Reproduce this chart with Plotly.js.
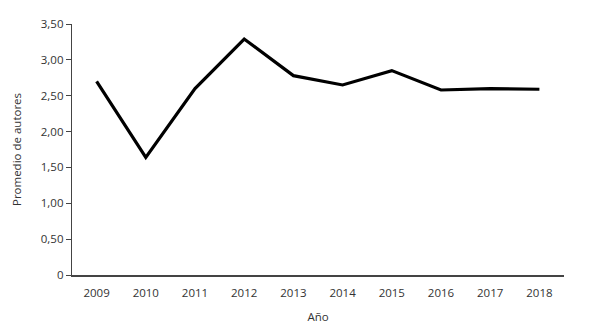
<!DOCTYPE html>
<html><head><meta charset="utf-8">
<script src="https://cdn.plot.ly/plotly-3.0.1.min.js"></script>
<style>html,body{margin:0;padding:0;background:#fff}#c{width:610px;height:327px}</style>
</head><body><div id="c"></div>
<script>
const years = ['2009','2010','2011','2012','2013','2014','2015','2016','2017','2018'];
const promedio = [2.70, 1.64, 2.60, 3.29, 2.78, 2.65, 2.85, 2.58, 2.60, 2.59];
const yTickVals = [0, 0.5, 1, 1.5, 2, 2.5, 3, 3.5];
const yTickText = ['0', '0,50', '1,00', '1,50', '2,00', '2,50', '3,00', '3,50'];

const font = {family: 'Open Sans, sans-serif', size: 11.5, color: '#333'};
Plotly.newPlot('c', [{
  x: years, y: promedio, type: 'scatter', mode: 'lines',
  line: {color: '#000', width: 3.2}
}], {
  width: 610, height: 327,
  margin: {l: 72, r: 46, t: 24, b: 52},
  paper_bgcolor: '#fff', plot_bgcolor: '#fff',
  font: font,
  showlegend: false,
  xaxis: {
    type: 'category', range: [-0.5, 9.5],
    showline: true, linecolor: '#444', linewidth: 1.5,
    ticks: '', ticklabelstandoff: 7, showgrid: false, zeroline: false,
    tickfont: font,
    title: {text: 'Año', font: font, standoff: 13}
  },
  yaxis: {
    range: [0, 3.5], tickvals: yTickVals, ticktext: yTickText,
    showline: true, linecolor: '#444', linewidth: 1.2,
    ticks: 'outside', ticklen: 5, tickcolor: '#444',
    showgrid: false, zeroline: false,
    tickfont: font,
    title: {text: 'Promedio de autores', font: font, standoff: 16}
  }
}, {staticPlot: true, displayModeBar: false});
</script></body></html>
